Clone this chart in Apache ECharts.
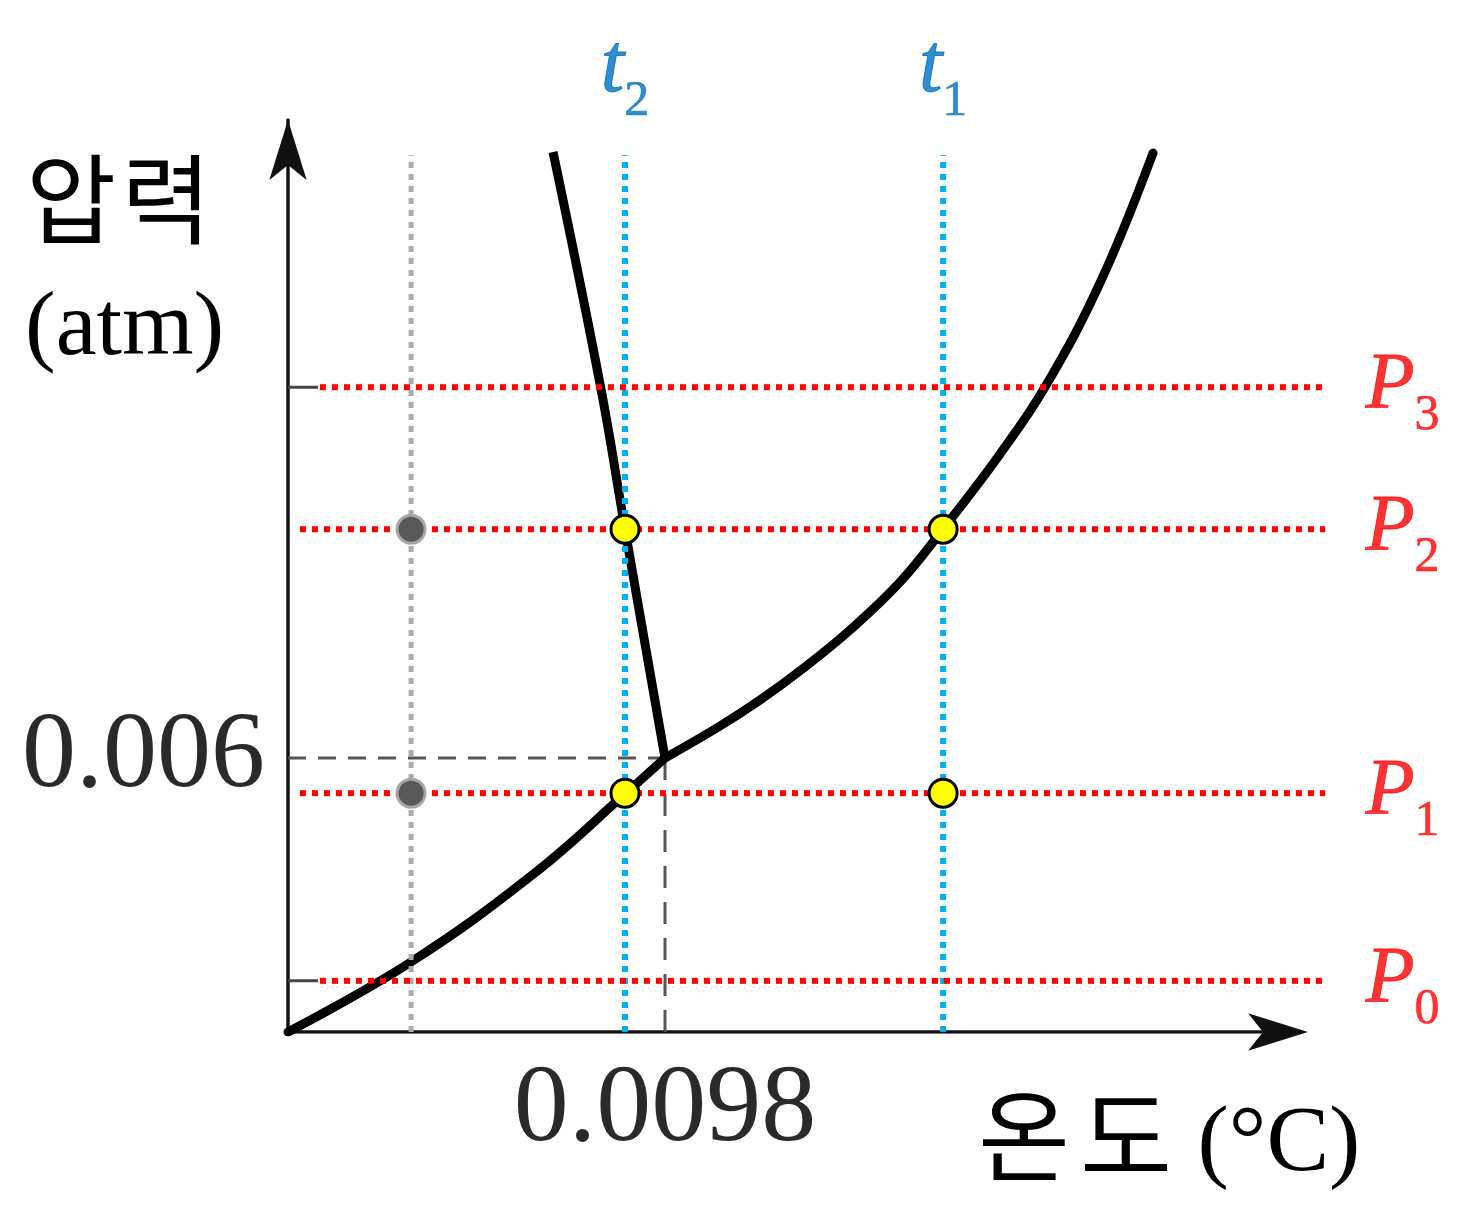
<!DOCTYPE html>
<html>
<head>
<meta charset="utf-8">
<script src="https://cdn.jsdelivr.net/npm/echarts@6/dist/echarts.min.js"></script>
<style>
html,body{margin:0;padding:0;background:#fff;}
#chart{width:1473px;height:1213px;}
</style>
</head>
<body>
<div id="chart"></div>
<script>
// ---- data (schematic phase diagram of water) ----
const triplePoint = [0.0098, 0.006];
const tickLabelX = [0.0098];
const tickLabelY = [0.006];
const tempNames = ['gray', '2', '1'];
const tempValues = [0.0032, 0.00876, 0.01703];
const pressureNames = ['0', '1', '2', '3'];
const pressureValues = [0.00112, 0.00523, 0.01101, 0.01412];
const sublimationCurve = [[0, 0], [0.003197, 0.001533], [0.006447, 0.003504], [0.00876, 0.005212], [0.0098, 0.006]];
const vaporCurve = [[0.0098, 0.006], [0.01123, 0.006701], [0.01227, 0.00727], [0.013439, 0.007993], [0.014609, 0.008803], [0.015909, 0.009854], [0.017027, 0.011015], [0.018508, 0.012657], [0.019678, 0.014124], [0.021108, 0.016402], [0.022486, 0.019248]];
const meltingCurve = [[0.0098, 0.006], [0.00876, 0.011015], [0.008136, 0.01408], [0.006889, 0.01927]];
const yellowPoints = [[0.00876, 0.01101], [0.01703, 0.01101], [0.00876, 0.00523], [0.01703, 0.00523]];
const grayPoints = [[0.0032, 0.01101], [0.0032, 0.00523]];
// extents of guide lines (data units)
const guideTop = 0.0192;
const guideRight = 0.02696;
const redStart = [0.00083, 0.00031, 0.00031, 0.00083];
const yTickLen = 0.00078;
const xArrowTip = 0.026515;
const xMax = 0.0283;
const yMax = 0.019971;

const SERIF = '"Liberation Serif","Times New Roman",serif';
const KR = '"Noto Sans CJK KR","Noto Sans CJK SC",sans-serif';

const series = [];

// x axis line with arrow head
series.push({
  type: 'line', symbol: 'none', silent: true, z: 3,
  data: [[0, 0], [xArrowTip - 0.0006, 0]],
  lineStyle: { color: '#111', width: 3.5 }
});
series.push({
  type: 'scatter', silent: true, z: 3, symbol: 'arrow', symbolSize: [28, 60], symbolRotate: -90,
  data: [[xArrowTip, 0]], itemStyle: { color: '#111', opacity: 1 }
});
// dashed guides to triple point
series.push({
  type: 'line', symbol: 'none', silent: true,
  data: [[0, triplePoint[1]], triplePoint],
  lineStyle: { color: '#555', width: 3, type: [18, 12] }
});
series.push({
  type: 'line', symbol: 'none', silent: true,
  data: [[triplePoint[0], 0], triplePoint],
  lineStyle: { color: '#555', width: 3, type: [22, 14] }
});
// small y ticks at P0 and P3
[0, 3].forEach(i => {
  series.push({
    type: 'line', symbol: 'none', silent: true,
    data: [[0, pressureValues[i]], [yTickLen, pressureValues[i]]],
    lineStyle: { color: '#444', width: 3, type: 'solid' }
  });
});
// phase curves
[sublimationCurve, vaporCurve].forEach(c => {
  series.push({
    type: 'line', symbol: 'none', silent: true, smooth: 0.4,
    data: c, lineStyle: { color: '#000', width: 9, cap: 'round' }
  });
});
series.push({
  type: 'line', symbol: 'none', silent: true, smooth: 0.4,
  data: meltingCurve, lineStyle: { color: '#000', width: 9, cap: 'butt', join: 'round' }
});
// vertical dotted lines
tempValues.forEach((t, i) => {
  series.push({
    type: 'line', symbol: 'none', silent: true,
    data: [[t, 0], [t, guideTop]],
    lineStyle: { color: i === 0 ? '#AAAAAA' : '#00B0F0', width: i === 0 ? 5 : 6, type: [6, 6] }
  });
});
// horizontal red dotted lines
pressureValues.forEach((p, i) => {
  series.push({
    type: 'line', symbol: 'none', silent: true,
    data: [[redStart[i], p], [guideRight, p]],
    lineStyle: { color: '#FF0000', width: 6, type: [6, 6] }
  });
});
// dots
series.push({
  type: 'scatter', silent: true, z: 10, data: grayPoints, symbolSize: 28,
  itemStyle: { color: '#595959', borderColor: '#A6A6A6', borderWidth: 3, opacity: 1 }
});
series.push({
  type: 'scatter', silent: true, z: 10, data: yellowPoints, symbolSize: 28,
  itemStyle: { color: '#FFFF00', borderColor: '#000', borderWidth: 3, opacity: 1 }
});
// P labels
series.push({
  type: 'scatter', silent: true, symbolSize: 1, z: 10,
  itemStyle: { color: 'rgba(0,0,0,0)' },
  data: pressureValues.map((p, i) => ({ value: [guideRight, p], name: pressureNames[i] })),
  label: {
    show: true, position: 'right', distance: 40,
    formatter: p => '{p|P}{s|' + p.name + '}',
    rich: {
      p: { fontFamily: SERIF, fontStyle: 'italic', fontSize: 80, color: '#FF0000', lineHeight: 80, textBorderColor: '#FF0000', textBorderWidth: 0.8 },
      s: { fontFamily: SERIF, fontSize: 50, color: '#FF0000', lineHeight: 50, padding: [58, 0, 0, 0], textBorderColor: '#FF0000', textBorderWidth: 0.6 }
    }
  }
});
// t labels
series.push({
  type: 'scatter', silent: true, symbolSize: 1, z: 10,
  itemStyle: { color: 'rgba(0,0,0,0)' },
  data: [{ value: [tempValues[1], guideTop], name: tempNames[1] }, { value: [tempValues[2], guideTop], name: tempNames[2] }],
  label: {
    show: true, position: 'top', distance: 44,
    formatter: p => '{t|t}{s|' + p.name + '}',
    rich: {
      t: { fontFamily: SERIF, fontStyle: 'italic', fontSize: 84, color: '#0070C0', lineHeight: 84, textBorderColor: '#0070C0', textBorderWidth: 1 },
      s: { fontFamily: SERIF, fontSize: 50, color: '#0070C0', lineHeight: 50, padding: [66, 0, 0, 0], textBorderColor: '#0070C0', textBorderWidth: 0.6 }
    }
  }
});

const near = (v, arr) => arr.some(a => Math.abs(v - a) < 1e-9);

const option = {
  animation: false,
  backgroundColor: '#fff',
  grid: { left: 288, right: 96.3, top: 120, bottom: 181, containLabel: false, outerBoundsMode: 'none' },
  xAxis: {
    type: 'value', min: 0, max: xMax, interval: 0.0098,
    splitLine: { show: false }, axisTick: { show: false },
    axisLine: { show: false },
    axisLabel: {
      margin: 24, fontFamily: SERIF, fontSize: 110, color: '#2a2a2a',
      showMaxLabel: false, showMinLabel: false,
      formatter: v => near(v, tickLabelX) ? String(v) : ''
    }
  },
  yAxis: {
    type: 'value', min: 0, max: yMax, interval: 0.006,
    splitLine: { show: false }, axisTick: { show: false },
    axisLine: { onZero: false, lineStyle: { color: '#111', width: 3.5 }, symbol: ['none', 'arrow'], symbolSize: [28, 60] },
    axisLabel: {
      margin: 23, fontFamily: SERIF, fontSize: 108, color: '#2a2a2a',
      showMaxLabel: false, showMinLabel: false,
      formatter: v => near(v, tickLabelY) ? String(v) : ''
    }
  },
  graphic: [
    { type: 'text', left: 26, top: 150, silent: true,
      style: {
        text: '{a|압}{b|력}',
        rich: {
          a: { fontFamily: KR, fontSize: 98, fill: '#000', lineHeight: 110 },
          b: { fontFamily: KR, fontSize: 98, fill: '#000', lineHeight: 110, padding: [0, 0, 0, 5] }
        }
      } },
    { type: 'text', left: 25, top: 284, silent: true,
      style: { text: '(atm)', font: '92px ' + SERIF, fill: '#000' } },
    { type: 'text', left: 978, top: 1080, silent: true,
      style: {
        text: '{k|온}{g|도}{e| (°C)}',
        rich: {
          k: { fontFamily: KR, fontSize: 100, fill: '#000', lineHeight: 110 },
          g: { fontFamily: KR, fontSize: 100, fill: '#000', lineHeight: 110, padding: [0, 0, 0, 10] },
          e: { fontFamily: SERIF, fontSize: 94, fill: '#000', lineHeight: 110, padding: [18, 0, 0, 2] }
        }
      } }
  ],
  series: series
};

const chart = echarts.init(document.getElementById('chart'), null, { renderer: 'canvas' });
chart.setOption(option);
</script>
</body>
</html>
